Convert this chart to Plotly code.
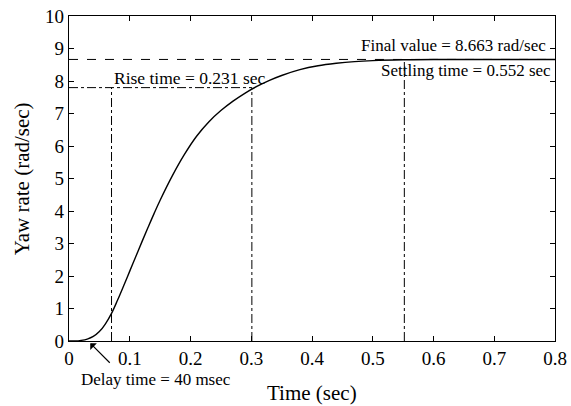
import plotly.graph_objects as go

# Step response data
time_s = [0, 0.01, 0.02, 0.03, 0.04, 0.05, 0.06, 0.07, 0.08, 0.09, 0.10, 0.11, 0.12, 0.13,
          0.14, 0.15, 0.17, 0.19, 0.21, 0.23, 0.25, 0.27, 0.29, 0.31, 0.33, 0.35, 0.38,
          0.41, 0.44, 0.47, 0.50, 0.55, 0.60, 0.70, 0.80]
yaw_rate = [0, 0.0, 0.02, 0.06, 0.14, 0.29, 0.53, 0.85, 1.26, 1.70, 2.15, 2.60, 3.05, 3.49,
            3.92, 4.33, 5.08, 5.74, 6.30, 6.74, 7.09, 7.38, 7.63, 7.84, 8.02, 8.17, 8.35,
            8.47, 8.545, 8.597, 8.628, 8.652, 8.66, 8.663, 8.663]

final_value = 8.663
rise_start = 0.07
rise_end = 0.301
rise_level = 0.9 * final_value
settling_time = 0.552
delay_time = 0.035

x_ticks = [0, 0.1, 0.2, 0.3, 0.4, 0.5, 0.6, 0.7, 0.8]
x_tick_labels = ["0", "0.1", "0.2", "0.3", "0.4", "0.5", "0.6", "0.7", "0.8"]
y_ticks = list(range(0, 11))
y_tick_labels = [str(v) for v in y_ticks]

FONT = "Liberation Serif"

fig = go.Figure()
fig.add_trace(go.Scatter(x=time_s, y=yaw_rate, mode="lines",
                         line=dict(color="black", width=1.4, shape="spline", smoothing=1.0),
                         showlegend=False, hoverinfo="skip"))

line_dd = dict(color="black", width=1, dash="dashdot")
shapes = [
    dict(type="line", xref="x", yref="y", x0=0, x1=0.8, y0=final_value, y1=final_value,
         line=dict(color="black", width=1, dash="dash")),
    dict(type="line", xref="x", yref="y", x0=0, x1=rise_end, y0=rise_level, y1=rise_level, line=line_dd),
    dict(type="line", xref="x", yref="y", x0=rise_start, x1=rise_start, y0=0, y1=rise_level, line=line_dd),
    dict(type="line", xref="x", yref="y", x0=rise_end, x1=rise_end, y0=0, y1=rise_level, line=line_dd),
    dict(type="line", xref="x", yref="y", x0=settling_time, x1=settling_time, y0=0, y1=final_value, line=line_dd),
]

ann_font = dict(family=FONT, size=17, color="black")
title_font = dict(family=FONT, size=21, color="black")
annotations = [
    dict(x=0.9856, y=9.08, xref="paper", yref="y", text="Final value = 8.663 rad/sec",
         showarrow=False, xanchor="right", yanchor="middle", font=ann_font),
    dict(x=0.9959, y=8.32, xref="paper", yref="y", text="Settling time = 0.552 sec",
         showarrow=False, xanchor="right", yanchor="middle", font=ann_font),
    dict(x=rise_start, y=8.1, xref="x", yref="y", text="Rise time = 0.231 sec",
         showarrow=False, xanchor="left", yanchor="middle", font=dict(family=FONT, size=17.5, color="black")),
    dict(x=0.016, y=-0.117, xref="x", yref="paper", text="Delay time = 40 msec",
         showarrow=False, xanchor="left", yanchor="middle", font=ann_font),
    dict(x=delay_time, y=-0.007, xref="x", yref="paper", ax=21, ay=21,
         text="", showarrow=True, arrowhead=1, arrowsize=1.3, arrowwidth=1.2, arrowcolor="black"),
    # axis titles
    dict(x=0.5, y=-0.16, xref="paper", yref="paper", text="Time (sec)",
         showarrow=False, xanchor="center", yanchor="middle", font=title_font),
    dict(x=-0.097, y=0.5, xref="paper", yref="paper", text="Yaw rate (rad/sec)", textangle=-90,
         showarrow=False, xanchor="center", yanchor="middle", font=title_font),
]

axis_common = dict(showline=True, linecolor="black", linewidth=1.2, mirror="ticks",
                   ticks="inside", ticklen=5, tickcolor="black", showgrid=False, zeroline=False,
                   automargin=False, tickfont=dict(family=FONT, size=19, color="black"))

fig.update_layout(
    width=571, height=406,
    margin=dict(l=69, r=16, t=16, b=65),
    paper_bgcolor="white", plot_bgcolor="white",
    shapes=shapes, annotations=annotations,
    xaxis=dict(range=[0, 0.8], tickvals=x_ticks, ticktext=x_tick_labels, **axis_common),
    yaxis=dict(range=[0, 10], tickvals=y_ticks, ticktext=y_tick_labels, **axis_common),
)

fig.write_html("out.html")
